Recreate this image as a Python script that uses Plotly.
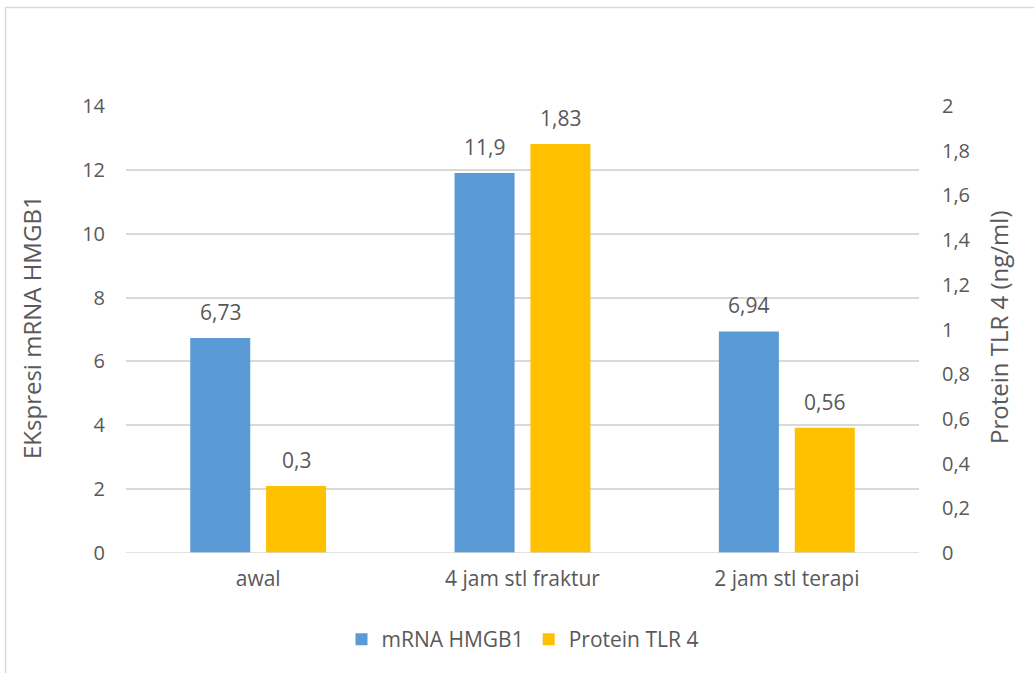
import plotly.graph_objects as go

categories = ["awal", "4 jam stl fraktur", "2 jam stl terapi"]
mrna_hmgb1 = [6.73, 11.9, 6.94]
protein_tlr4 = [0.3, 1.83, 0.56]
mrna_labels = ["6,73", "11,9", "6,94"]
tlr4_labels = ["0,3", "1,83", "0,56"]

left_ticks = [0, 2, 4, 6, 8, 10, 12, 14]
right_ticks = [0, 0.2, 0.4, 0.6, 0.8, 1.0, 1.2, 1.4, 1.6, 1.8, 2.0]
right_tick_text = ["0", "0,2", "0,4", "0,6", "0,8", "1", "1,2", "1,4", "1,6", "1,8", "2"]

FONT = "Open Sans"
TXT = "#595959"
W, H = 1034, 673
PX0, PX1 = 126, 919
PY0, PY1 = 106, 553
L, R, T, B = PX0, W - PX1, PY0, H - PY1
pw = PX1 - PX0
ph = PY1 - PY0
TICK = 20
XTICK = 21
LBL = 21
TITLE = 24
LEG = 21


def px_x(x):
    return (x - PX0) / pw


def px_y(y):
    return (PY1 - y) / ph


fig = go.Figure()
fig.add_trace(go.Bar(
    x=categories, y=mrna_hmgb1, name="mRNA HMGB1",
    marker=dict(color="#5B9BD5", line=dict(width=0)),
    width=0.227, offset=-0.257, yaxis="y",
))
fig.add_trace(go.Bar(
    x=categories, y=protein_tlr4, name="Protein TLR 4",
    marker=dict(color="#FFC000", line=dict(width=0)),
    width=0.227, offset=0.03, yaxis="y2",
))

annotations = []
for c, v, t in zip(categories, mrna_hmgb1, mrna_labels):
    annotations.append(dict(x=c, y=v, xref="x", yref="y", text=t, showarrow=False,
                            xshift=-38, yshift=26, yanchor="middle",
                            font=dict(family=FONT, size=LBL, color=TXT)))
for c, v, t in zip(categories, protein_tlr4, tlr4_labels):
    annotations.append(dict(x=c, y=v, xref="x", yref="y2", text=t, showarrow=False,
                            xshift=38, yshift=26, yanchor="middle",
                            font=dict(family=FONT, size=LBL, color=TXT)))
annotations += [
    dict(text="EKspresi mRNA HMGB1", xref="paper", yref="paper",
         x=px_x(31), y=px_y(327), textangle=-90,
         showarrow=False, xanchor="center", yanchor="middle",
         font=dict(family=FONT, size=TITLE, color=TXT)),
    dict(text="Protein TLR 4 (ng/ml)", xref="paper", yref="paper",
         x=px_x(998), y=px_y(327), textangle=-90,
         showarrow=False, xanchor="center", yanchor="middle",
         font=dict(family=FONT, size=TITLE, color=TXT)),
]

fig.update_layout(
    width=W, height=H,
    margin=dict(l=L, r=R, t=T, b=B, autoexpand=False),
    paper_bgcolor="white", plot_bgcolor="white",
    font=dict(family=FONT, size=TICK, color=TXT),
    barmode="overlay",
    showlegend=True,
    legend=dict(orientation="h", x=0.5, xanchor="center", y=px_y(619), yanchor="top",
                font=dict(family=FONT, size=LEG, color=TXT),
                traceorder="normal"),
    xaxis=dict(showgrid=False, showline=False, zeroline=False, ticks="",
               ticklabelstandoff=11, tickfont=dict(family=FONT, size=XTICK, color=TXT)),
    yaxis=dict(range=[0, 14], tickvals=left_ticks, showgrid=True, gridcolor="#D9D9D9",
               gridwidth=1.5, zeroline=False, showline=False, ticks="",
               ticklabelstandoff=20, tickfont=dict(family=FONT, size=TICK, color=TXT)),
    yaxis2=dict(range=[0, 2], tickvals=right_ticks, ticktext=right_tick_text,
                overlaying="y", side="right", showgrid=False, zeroline=False,
                showline=False, ticks="", ticklabelstandoff=22,
                tickfont=dict(family=FONT, size=TICK, color=TXT)),
    annotations=annotations,
    shapes=[
        dict(type="rect", xref="paper", yref="paper",
             x0=px_x(5.5), x1=px_x(1060),
             y0=px_y(700), y1=px_y(7.5),
             line=dict(color="#D9D9D9", width=1.5), fillcolor="rgba(0,0,0,0)",
             layer="below"),
        dict(type="line", xref="paper", yref="y", x0=0, x1=1, y0=0, y1=0,
             line=dict(color="#D9D9D9", width=1.5), layer="above"),
    ],
)

fig.write_html("out.html", config={"displayModeBar": False},
               post_script="document.body.style.margin='0';")
